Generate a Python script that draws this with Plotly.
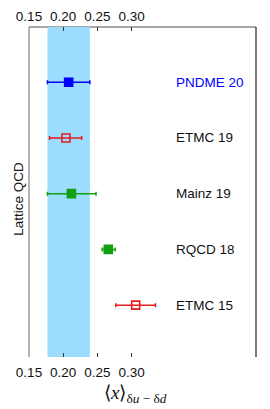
import plotly.graph_objects as go

labels = ["PNDME 20", "ETMC 19", "Mainz 19", "RQCD 18", "ETMC 15"]
values = [0.208, 0.204, 0.212, 0.266, 0.306]
err_plus = [0.031, 0.023, 0.036, 0.010, 0.029]
err_minus = [0.031, 0.024, 0.035, 0.009, 0.029]
ypos = [5, 4, 3, 2, 1]
colors = ["#0000FF", "#E41A1C", "#12A012", "#12A012", "#E41A1C"]
symbols = ["square", "square-open", "square", "square", "square-open"]
label_colors = ["#0000FF", "#111111", "#111111", "#111111", "#111111"]
band = [0.177, 0.239]
xticks = [0.15, 0.20, 0.25, 0.30]
xrange_ = [0.15, 0.482]
yrange_ = [0.07, 5.99]

fig = go.Figure()
for i in range(len(labels)):
    fig.add_trace(go.Scatter(
        x=[values[i]], y=[ypos[i]], mode="markers",
        marker=dict(symbol=symbols[i], size=8, color=colors[i],
                    line=dict(color=colors[i], width=1.6)),
        error_x=dict(type="data", symmetric=False, array=[err_plus[i]],
                     arrayminus=[err_minus[i]], color=colors[i],
                     thickness=1.5, width=2),
        showlegend=False, hoverinfo="skip"))
    fig.add_annotation(x=0.362, y=ypos[i], text=labels[i], showarrow=False,
                       xanchor="left", yanchor="middle",
                       font=dict(family="Liberation Sans, Arial", size=13.5,
                                 color=label_colors[i]))

# invisible trace for top axis
fig.add_trace(go.Scatter(x=[0.2], y=[1], xaxis="x2", mode="markers",
                         marker=dict(opacity=0), showlegend=False, hoverinfo="skip"))

# frame lines (band drawn on top of them)
fig.add_shape(type="line", xref="paper", yref="paper", x0=0, x1=1, y0=1, y1=1,
              line=dict(color="#8a8a8a", width=1.3), layer="below")
fig.add_shape(type="line", xref="paper", yref="paper", x0=0, x1=0, y0=0, y1=1,
              line=dict(color="#8a8a8a", width=1.3), layer="below")
fig.add_shape(type="line", xref="paper", yref="paper", x0=1, x1=1, y0=0, y1=1,
              line=dict(color="#333333", width=1.3), layer="below")
fig.add_shape(type="rect", xref="x", yref="paper", x0=band[0], x1=band[1], y0=0, y1=1,
              fillcolor="#9BDCFF", line=dict(width=0), layer="below")

# axis titles as annotations
fig.add_annotation(xref="paper", yref="paper", x=-0.048, y=0.48, text="Lattice QCD",
                   textangle=-90, showarrow=False, xanchor="center", yanchor="middle",
                   font=dict(family="Liberation Sans, Arial", size=13.5, color="#111111"))
fig.add_annotation(xref="paper", yref="paper", x=0.47, y=-0.112,
                   text="⟨<i>x</i>⟩<sub>δ<i>u</i> − δ<i>d</i></sub>",
                   showarrow=False, xanchor="center", yanchor="middle",
                   font=dict(family="Liberation Serif, Times New Roman", size=19,
                             color="#111111"))

tickfont = dict(family="Liberation Sans, Arial", size=13.5, color="#111111")
fig.update_layout(
    width=262, height=401,
    margin=dict(l=21, r=14, t=19, b=52, autoexpand=False),
    plot_bgcolor="white", paper_bgcolor="white",
    xaxis=dict(range=xrange_, tickvals=xticks, ticktext=[f"{v:.2f}" for v in xticks],
               ticks="inside", ticklen=4, tickcolor="#333333", tickwidth=1,
               showgrid=False, zeroline=False, showline=False, tickfont=tickfont,
               ticklabelstandoff=5, automargin=False),
    xaxis2=dict(range=xrange_, overlaying="x", side="top", tickvals=xticks,
                ticktext=[f"{v:.2f}" for v in xticks],
                ticks="inside", ticklen=4, tickcolor="#333333", tickwidth=1,
                showgrid=False, zeroline=False, showline=False, tickfont=tickfont,
                ticklabelstandoff=2, automargin=False),
    yaxis=dict(range=yrange_, showticklabels=False, ticks="", showgrid=False,
               zeroline=False, showline=False, automargin=False),
)

fig.write_html("out.html")
